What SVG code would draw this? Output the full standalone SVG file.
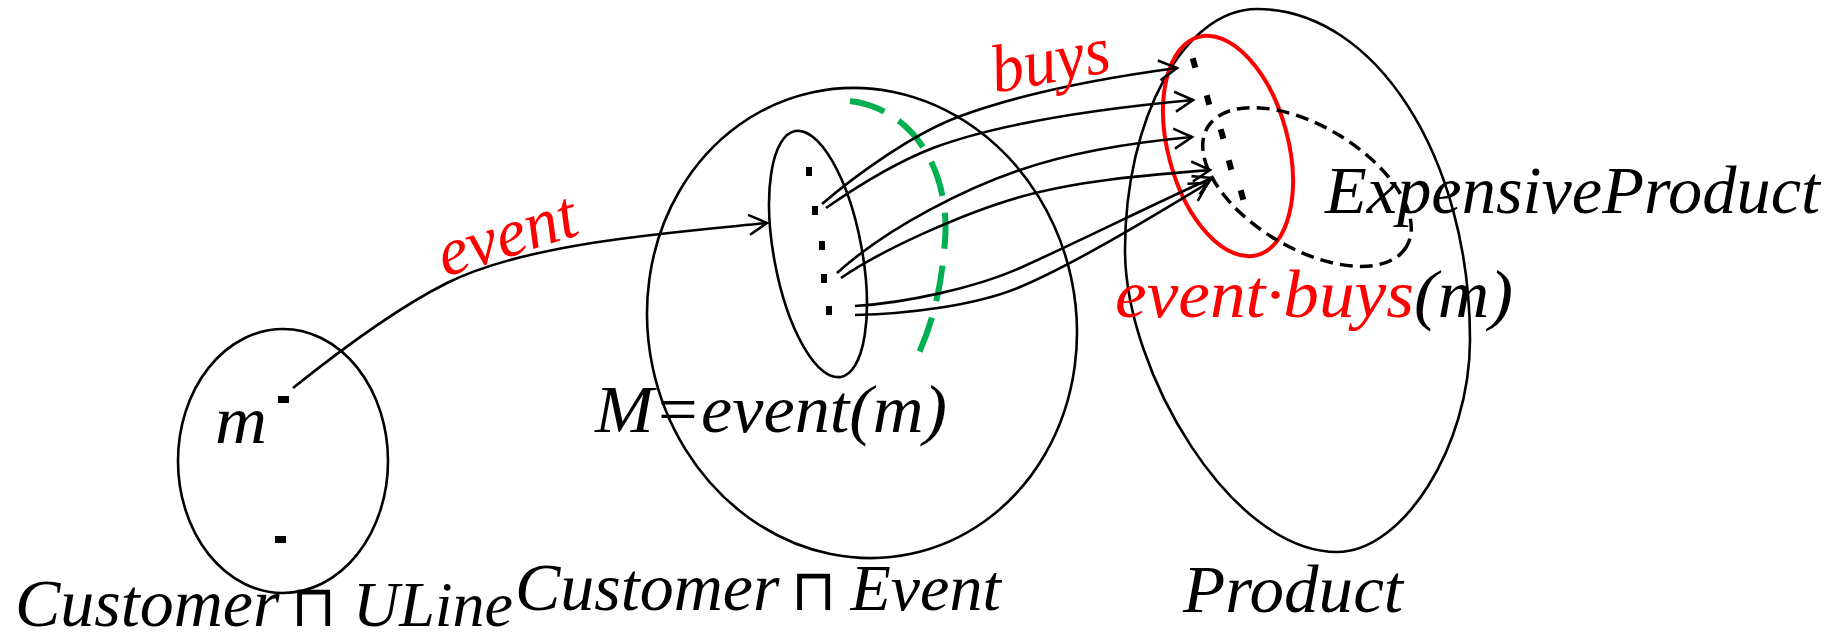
<svg xmlns="http://www.w3.org/2000/svg" width="1831" height="642" viewBox="0 0 1831 642">
<style>
.ln{fill:none;stroke:#000;stroke-width:2.6}
.conn{fill:none;stroke:#000;stroke-width:2.6;marker-end:url(#arr)}
.lbl{font-family:"Liberation Serif","Times New Roman",serif;font-style:italic;font-size:68px;fill:#000}
.red{fill:#FF0000}
.op{font-family:"DejaVu Sans",sans-serif;font-style:normal;font-weight:200;font-size:58px}
.dot{fill:#000}
</style>
<defs>
<marker id="arr" markerUnits="userSpaceOnUse" markerWidth="26" markerHeight="26" viewBox="-22 -13 24 26" refX="0" refY="0" orient="auto" overflow="visible">
<path d="M-18,-10 L0,0 L-18,10" fill="none" stroke="#000" stroke-width="2.6"/>
</marker>
</defs>
<rect width="1831" height="642" fill="#fff"/>

<g id="node-customer-uline">
<ellipse class="ln" cx="283" cy="461" rx="105" ry="132"/>
<rect class="dot" x="278" y="396" width="11" height="7"/>
<rect class="dot" x="275" y="536" width="11" height="7"/>
<text class="lbl" x="215" y="443" textLength="52" lengthAdjust="spacingAndGlyphs">m</text>
<text class="lbl" y="626"><tspan x="15">Customer</tspan><tspan class="op" x="291">⊓</tspan><tspan x="337" font-size="64"> ULine</tspan></text>
</g>

<g id="node-customer-event">
<ellipse class="ln" cx="862" cy="323" rx="214" ry="236" transform="rotate(-12 862 323)"/>
<text class="lbl" y="610"><tspan x="515">Customer</tspan><tspan class="op" x="791">⊓</tspan><tspan x="834" font-size="66"> Event</tspan></text>
</g>

<g id="node-m-set">
<ellipse class="ln" cx="818" cy="254" rx="44" ry="125" transform="rotate(-10.5 818 254)"/>
<rect class="dot" x="806" y="167" width="6" height="9"/>
<rect class="dot" x="812" y="206" width="6" height="9"/>
<rect class="dot" x="819" y="241" width="6" height="9"/>
<rect class="dot" x="821" y="274" width="6" height="9"/>
<rect class="dot" x="826" y="306" width="6" height="9"/>
<text class="lbl" x="595" y="432" textLength="352" lengthAdjust="spacingAndGlyphs">M=event(m)</text>
</g>

<g id="node-green-arc">
<path d="M850,101 C920,110 950,180 945,240 C942,290 930,330 917,357" fill="none" stroke="#00B050" stroke-width="6" stroke-dasharray="36 17"/>
</g>

<g id="node-product">
<path class="ln" d="M1257,9 C1184,9 1125,119 1125,250 C1125,371 1231,552 1337,552 C1403,552 1470,446 1470,340 C1470,157 1375,9 1257,9 Z"/>
<text class="lbl" x="1183" y="612" textLength="220" lengthAdjust="spacingAndGlyphs">Product</text>
<g transform="rotate(-15 1194 63)"><rect class="dot" x="1191" y="58" width="6" height="10"/></g>
<g transform="rotate(-15 1208 100)"><rect class="dot" x="1205" y="95" width="6" height="10"/></g>
<g transform="rotate(-15 1222 134)"><rect class="dot" x="1219" y="129" width="6" height="10"/></g>
<g transform="rotate(-15 1230 165)"><rect class="dot" x="1227" y="160" width="6" height="10"/></g>
<g transform="rotate(-15 1242 195)"><rect class="dot" x="1239" y="190" width="6" height="10"/></g>
</g>

<g id="node-event-buys-m">
<ellipse cx="1228" cy="146" rx="60" ry="113" transform="rotate(-15 1228 146)" fill="none" stroke="#FF0000" stroke-width="4"/>
<text class="lbl" x="1115" y="317" textLength="398" lengthAdjust="spacingAndGlyphs"><tspan class="red">event·buys</tspan>(m)</text>
</g>

<g id="node-expensive-product">
<ellipse cx="1307" cy="187" rx="116" ry="61" transform="rotate(31 1307 187)" fill="none" stroke="#000" stroke-width="3.5" stroke-dasharray="13 7"/>
<text class="lbl" x="1325" y="213" textLength="495" lengthAdjust="spacingAndGlyphs">ExpensiveProduct</text>
</g>

<g id="connectors">
<path class="conn" d="M293,388 C343,348 397,308 447,283 C527,243 667,233 767,223"/>
<text class="lbl red" x="445" y="277" textLength="143" lengthAdjust="spacingAndGlyphs" transform="rotate(-17.5 445 277)">event</text>
<path class="conn" d="M822,204 C857,174 913,134 958,117 C1028,91 1117,76 1177,68"/>
<path class="conn" d="M826,208 C862,183 897,162 933,148 C1000,123 1106,108 1193,100"/>
<path class="conn" d="M837,273 C890,225 970,187 1020,170 C1075,151 1137,142 1192,137"/>
<path class="conn" d="M841,278 C886,247 970,211 1020,197 C1080,180 1150,175 1210,170"/>
<path class="conn" d="M855,306 C905,303 975,288 1020,268 C1080,241 1162,200 1212,178"/>
<path class="conn" d="M855,315 C905,314 975,306 1020,287 C1075,264 1160,212 1208,183"/>
<text class="lbl red" x="995" y="93" font-size="74" textLength="120" lengthAdjust="spacingAndGlyphs" transform="rotate(-10.5 995 93)">buys</text>
</g>
</svg>
